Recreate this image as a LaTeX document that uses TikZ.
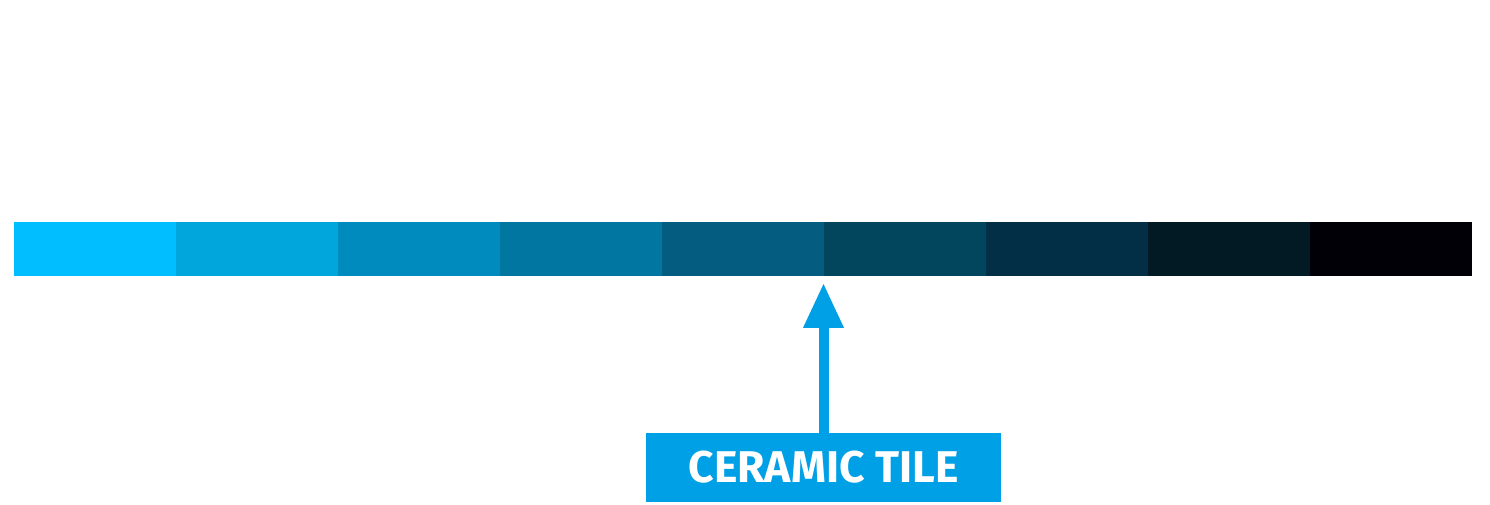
\documentclass[tikz,border=0pt]{standalone}
\usepackage{fontspec}
\setmainfont{Fira Sans}
\usepackage{tikz}
\usetikzlibrary{arrows.meta}

\definecolor{tileA}{HTML}{00BEFF}
\definecolor{tileB}{HTML}{00A6DC}
\definecolor{tileC}{HTML}{008BBF}
\definecolor{tileD}{HTML}{0076A0}
\definecolor{tileE}{HTML}{045D80}
\definecolor{tileF}{HTML}{02465E}
\definecolor{tileG}{HTML}{022F45}
\definecolor{tileH}{HTML}{011A23}
\definecolor{tileI}{HTML}{000006}
\definecolor{tileblue}{HTML}{00A0E6}

\begin{document}
\begin{tikzpicture}[x=0.02cm, y=-0.02cm,
        seg/.style={rectangle, inner sep=0pt, outer sep=0pt, minimum width=3.24cm, minimum height=1.08cm},
        tag/.style={rectangle, fill=tileblue, text=white, inner sep=0pt, minimum width=7.1cm, minimum height=1.38cm, font=\fontsize{25.3}{29}\selectfont\bfseries}]
        \useasboundingbox (0,0) rectangle (1490,504);

        % Nodes
        \node[seg, fill=tileA] (s1) at (95, 249) {};
        \node[seg, fill=tileB] (s2) at (257, 249) {};
        \node[seg, fill=tileC] (s3) at (419, 249) {};
        \node[seg, fill=tileD] (s4) at (581, 249) {};
        \node[seg, fill=tileE] (s5) at (743, 249) {};
        \node[seg, fill=tileF] (s6) at (905, 249) {};
        \node[seg, fill=tileG] (s7) at (1067, 249) {};
        \node[seg, fill=tileH] (s8) at (1229, 249) {};
        \node[seg, fill=tileI] (s9) at (1391, 249) {};
        \node[tag] (tile) at (823.5, 467.5) {CERAMIC TILE};
        \coordinate (tip) at (823.5, 283);

        % Edges
        \draw[-{Triangle[length=0.9cm, width=0.76cm]}, line width=0.2cm, tileblue] (tile.north) -- (tip);

    \end{tikzpicture}
\end{document}
